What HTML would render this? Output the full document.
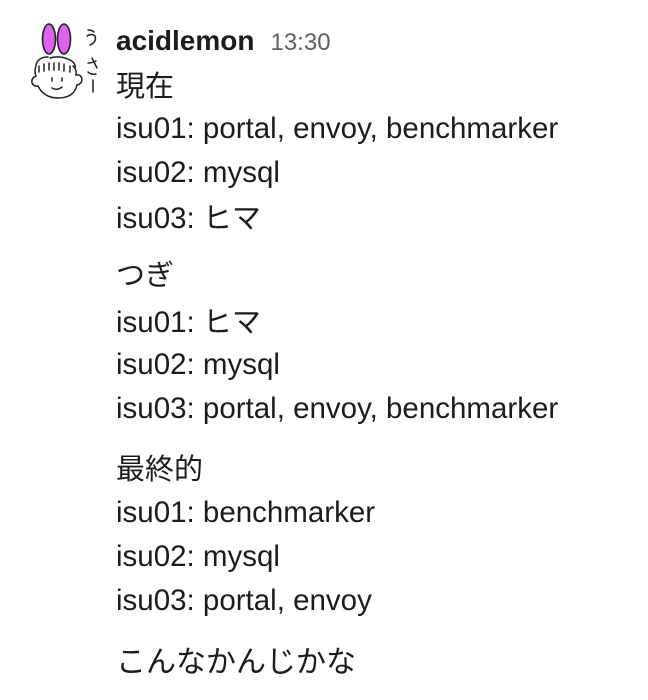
<!DOCTYPE html>
<html><head><meta charset="utf-8"><style>
html,body{margin:0;padding:0;background:#fff;width:648px;height:700px;overflow:hidden}
body{position:relative;font-family:"Liberation Sans","Noto Sans CJK JP",sans-serif;color:#1d1c1d}
.l{position:absolute;left:116px;height:44px;line-height:44px;font-size:29.5px;white-space:nowrap}
.j{font-family:"Noto Sans CJK JP",sans-serif;font-size:29px}
</style></head><body>
<svg style="position:absolute;left:0;top:0" width="112" height="112" viewBox="0 0 112 112">
<g fill="#e060f0" stroke="#222" stroke-width="1.6">
<ellipse cx="49" cy="39" rx="6.5" ry="15"/>
<ellipse cx="64" cy="39" rx="6.5" ry="15"/>
</g>
<g fill="none" stroke="#222" stroke-width="1.5" stroke-linecap="round">
<path d="M36 65 q2-8 12-8 M50 58 q10-3 20 2 q6 3 5 8"/>
<path d="M39 66 v6 M44 64 v7 M49 63 v7 M54 63 v7 M59 63 v7 M64 64 v7 M70 66 v6"/>
<path d="M36 66 q-2 5 0 10 q-5 2-4 7 q2 4 6 3 q6 12 20 12 q16 0 19-13 q5-1 5-6 q-1-5-6-4 q1-6-3-9"/>
<path d="M52 78 v3 M62 78 v3 M52 88 q5 3 10-1"/>
<path d="M88 30 q4 0 6 2 M87 36 q5-3 8 0 q2 6-5 9"/>
<path d="M88 63 q4 0 8-2 M92 58 l5 10 M88 72 q3 3 8 2"/>
<path d="M93 80 v12"/>
</g>
</svg>
<div style="position:absolute;left:116px;top:21px;height:40px;line-height:40px;white-space:nowrap"><b style="font-size:28px">acidlemon</b><span style="font-size:24px;color:#616061;margin-left:16px">13:30</span></div>
<div class="l" style="top:62px"><span class="j">現在</span></div>
<div class="l" style="top:107px">isu01: portal, envoy, benchmarker</div>
<div class="l" style="top:151px">isu02: mysql</div>
<div class="l" style="top:194px">isu03: <span class="j">ヒマ</span></div>
<div class="l" style="top:251px"><span class="j">つぎ</span></div>
<div class="l" style="top:298px">isu01: <span class="j">ヒマ</span></div>
<div class="l" style="top:343px">isu02: mysql</div>
<div class="l" style="top:387px">isu03: portal, envoy, benchmarker</div>
<div class="l" style="top:445px"><span class="j">最終的</span></div>
<div class="l" style="top:491px">isu01: benchmarker</div>
<div class="l" style="top:535px">isu02: mysql</div>
<div class="l" style="top:579px">isu03: portal, envoy</div>
<div class="l" style="top:637px"><span class="j" style="font-size:30px">こんなかんじかな</span></div>
</body></html>
